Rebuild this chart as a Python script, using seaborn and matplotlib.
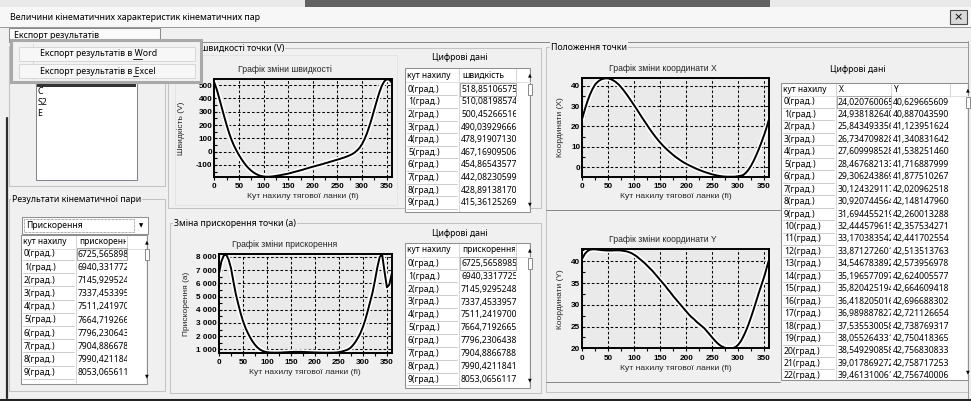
import matplotlib
matplotlib.use("Agg")
import matplotlib.pyplot as plt
import matplotlib.patheffects as pe
from matplotlib.patches import Rectangle
from matplotlib.lines import Line2D
from matplotlib.transforms import Affine2D, Bbox
from matplotlib.ticker import MultipleLocator
import seaborn as sns

W, H = 971, 401

# ---- chart data (5 degree steps) ----
angles = list(range(0, 361, 5))

velocity = [519, 467, 401, 333, 265, 200, 140, 88, 45, 8, -25, -55,
            -82, -106, -126, -143, -157, -168, -177, -183, -186, -188, -188, -187,
            -185, -182, -179, -176, -172, -169, -165, -160, -155, -150, -145, -140,
            -135, -129, -124, -118, -113, -108, -103, -98, -93, -87, -82, -76,
            -71, -65, -60, -54, -48, -42, -35, -27, -18, -6, 10, 30,
            58, 95, 140, 195, 255, 320, 385, 445, 495, 528, 543, 540,
            519]

acceleration = [6726, 7665, 8110, 8190, 7800, 7150, 6150, 5200, 4450, 3750, 3150, 2650,
                2250, 1900, 1600, 1350, 1150, 1000, 900, 830, 790, 770, 760, 755,
                755, 760, 765, 775, 785, 795, 805, 812, 815, 815, 812, 808,
                800, 792, 785, 778, 770, 765, 760, 755, 752, 750, 750, 752,
                758, 770, 790, 830, 880, 940, 1020, 1150, 1350, 1600, 1900, 2250,
                2700, 3250, 3900, 4600, 5300, 6200, 7200, 8000, 8200, 6900, 5700, 5900,
                6726]

coord_x = [24.02, 28.47, 32.44, 35.82, 38.55, 40.7, 42.0, 42.9, 43.4, 43.65, 43.6, 43.2,
           42.6, 41.7, 40.6, 39.2, 37.6, 35.9, 34.1, 32.2, 30.3, 28.4, 26.4, 24.4,
           22.5, 20.6, 18.7, 16.9, 15.2, 13.6, 12.1, 10.7, 9.4, 8.2, 7.1, 6.0,
           5.0, 4.1, 3.2, 2.4, 1.7, 1.0, 0.4, -0.2, -0.8, -1.3, -1.8, -2.3,
           -2.7, -3.1, -3.5, -3.8, -4.1, -4.3, -4.5, -4.6, -4.65, -4.65, -4.65, -4.6,
           -4.4, -4.2, -3.8, -2.7, -1.2, 0.8, 3.2, 6.0, 9.0, 12.3, 15.8, 19.7,
           24.02]

coord_y = [40.63, 41.72, 42.36, 42.66, 42.76, 42.74, 42.68, 42.6, 42.54, 42.5, 42.48, 42.48,
           42.5, 42.52, 42.52, 42.48, 42.38, 42.3, 42.1, 41.85, 41.5, 41.1, 40.6, 40.1,
           39.6, 39.0, 38.4, 37.8, 37.1, 36.4, 35.7, 35.0, 34.3, 33.5, 32.8, 32.0,
           31.3, 30.6, 29.9, 29.2, 28.5, 27.8, 27.2, 26.7, 26.1, 25.6, 25.1, 24.6,
           23.9, 23.2, 22.5, 21.8, 21.2, 20.7, 20.35, 20.12, 20.02, 20.0, 20.05, 20.3,
           20.8, 21.6, 22.7, 24.0, 25.5, 27.2, 29.0, 30.9, 32.8, 34.6, 36.4, 38.5,
           40.63]

x_ticks = [0, 50, 100, 150, 200, 250, 300, 350]
v_ticks = [-100, 0, 100, 200, 300, 400, 500]
a_ticks = [1000, 2000, 3000, 4000, 5000, 6000, 7000, 8000]
a_tick_labels = ["1 000", "2 000", "3 000", "4 000", "5 000", "6 000", "7 000", "8 000"]
cx_ticks = [0, 10, 20, 30, 40]
cy_ticks = [20, 25, 30, 35, 40]

# ---- table contents shown in the grids ----
velocity_table = ["518,85106575", "510,08198574", "500,45266516", "490,03929666",
                  "478,91907130", "467,16909506", "454,86543577", "442,08230599",
                  "428,89138170", "415,36125269"]
accel_table = ["6725,5658985", "6940,3317725", "7145,9295248", "7337,4533957",
               "7511,2419700", "7664,7192665", "7796,2306438", "7904,8866788",
               "7990,4211841", "8053,0656117"]
coord_x_table = ["24,020760065", "24,938182640", "25,843493356", "26,734709828",
                 "27,609998528", "28,467682133", "29,306243869", "30,124329117",
                 "30,920744564", "31,694455219", "32,444579615", "33,170383542",
                 "33,871272601", "34,546783892", "35,196577097", "35,820425194",
                 "36,418205016", "36,989887827", "37,535530058", "38,055264331",
                 "38,549290858", "39,017869272", "39,461310061"]
coord_y_table = ["40,629665609", "40,887043590", "41,123951624", "41,340831642",
                 "41,538251460", "41,716887999", "41,877510267", "42,020962518",
                 "42,148147960", "42,260013288", "42,357534271", "42,441702554",
                 "42,513513763", "42,573956978", "42,624005577", "42,664609418",
                 "42,696688302", "42,721126654", "42,738769317", "42,750418365",
                 "42,756830833", "42,758717253", "42,756740006"]
row_labels = [f"{i}(град.)" for i in range(23)]
list_items = ["C", "S2", "E"]

UI = ["Noto Sans", "DejaVu Sans"]
CH = ["Liberation Sans", "DejaVu Sans"]

sns.set_theme(style="white")
plt.rcParams["font.family"] = CH

fig = plt.figure(figsize=(W / 100, H / 100), dpi=100, facecolor="#f0f0f0")
pix = Affine2D().scale(1, -1).translate(0, H)   # pixel coords, origin top-left


def rect(x, y, w, h, fc="none", ec="none", lw=0.72, z=1, **kw):
    fig.add_artist(Rectangle((x, y), w, h, transform=pix, facecolor=fc,
                             edgecolor=ec, linewidth=lw, zorder=z, **kw))


def line(xs, ys, c="#a0a0a0", lw=0.72, z=2, **kw):
    fig.add_artist(Line2D(xs, ys, transform=pix, color=c, linewidth=lw, zorder=z, **kw))


def text(x, y, s, size=6.2, c="black", ha="left", va="center", family=UI, clip=None, z=5, **kw):
    t = fig.text(x, y, s, transform=pix, fontsize=size, color=c, ha=ha, va=va,
                 family=family, zorder=z, **kw)
    if clip:
        x0, y0, x1, y1 = clip
        t.set_clip_box(Bbox.from_extents(x0, H - y1, x1, H - y0))
        t.set_clip_on(True)
    return t


def group(x, y, w, h, title=None, tx=0):
    rect(x, y, w, h, ec="#c3c3c3", lw=0.75)
    if title:
        text(tx, y, title, size=6.3, z=3,
             bbox=dict(facecolor="#f0f0f0", edgecolor="none", pad=0.6))


def table(x0, y0, x1, y1, cols, header, n_rows, columns, row0, pitch):
    rect(x0, y0, x1 - x0, y1 - y0, fc="white", ec="#8e8f8f", lw=0.75, z=2)
    sb = cols[-1]
    for i, h in enumerate(header):
        text(cols[i] + 2, y0 + 7, h, size=6.0, z=4, clip=(cols[i], y0, cols[i + 1] - 2, y1))
        line([cols[i + 1] - 1] * 2, [y0 + 1, y0 + 13], c="#d6d6d6", z=3)
    line([x0 + 1, sb], [y0 + 13.5] * 2, c="#e0e0e0", z=3)
    line([cols[1] - 1] * 2, [y0 + 14, y1 - 1], c="#d6d6d6", z=3)
    for r in range(n_rows):
        yy = row0 + r * pitch
        text(x0 + 3, yy, row_labels[r], z=4, clip=(x0, y0 + 14, cols[1] - 1, y1 - 1))
        if yy + 6 < y1:
            line([x0 + 2, cols[1] - 3], [yy + 6] * 2, c="#cdcdcd", z=3)
        for c, col in enumerate(columns):
            text(cols[c + 1] + 1, yy, col[r], z=4,
                 clip=(cols[c + 1], y0 + 14, cols[c + 2] - 1, y1 - 1))
    rect(cols[1], row0 - 6.3, cols[2] - cols[1] - 1, 12.6, ec="#9a9a9a", lw=0.6, z=3)
    rect(sb, y0 + 1, x1 - sb - 1, y1 - y0 - 2, fc="#eeeeee", z=3)
    text((sb + x1) / 2, y0 + 7, "▲", size=3.5, ha="center", family=["DejaVu Sans"], z=4)
    text((sb + x1) / 2, y1 - 8, "▼", size=3.5, ha="center", family=["DejaVu Sans"], z=4)
    rect(sb + 1.5, row0 - 5.5, x1 - sb - 4, 11, fc="white", ec="#8a8a8a", lw=0.7, z=4)


def chart(box, values, title, title_x, ylabel, ypad, yticks, ylabels, yminor):
    l, t, r, b = box
    ax = fig.add_axes([l / W, 1 - b / H, (r - l) / W, (b - t) / H])
    ax.set_facecolor("#eaeaea")
    sns.lineplot(x=angles, y=values, ax=ax, color="black", linewidth=1.4,
                 path_effects=[pe.Stroke(linewidth=3.8, foreground="white"), pe.Normal()])
    ax.set_xlim(0, 360)
    ax.set_ylim(min(values), max(values))
    ax.set_xticks(x_ticks)
    ax.set_xticklabels(x_ticks, fontweight="bold", fontsize=5.9)
    ax.set_yticks(yticks)
    ax.set_yticklabels(ylabels, fontweight="bold", fontsize=5.9)
    ax.xaxis.set_minor_locator(MultipleLocator(25))
    ax.yaxis.set_minor_locator(MultipleLocator(yminor))
    ax.tick_params(axis="x", which="both", direction="out", bottom=True,
                   length=2.5, width=0.8, pad=2.2, colors="black")
    ax.tick_params(axis="y", which="both", direction="in", left=True,
                   length=2.5, width=0.8, pad=1.5, colors="black")
    ax.grid(True, which="major", color="black", linestyle=(0, (2.5, 2)), linewidth=0.75)
    for s in ax.spines.values():
        s.set_visible(True)
        s.set_color("black")
        s.set_linewidth(1.4)
    ax.set_title(title, fontsize=6.2, pad=5.5, x=title_x)
    ax.set_xlabel("Кут нахилу тягової ланки (fi)", fontsize=6.1, labelpad=2)
    ax.set_ylabel(ylabel, fontsize=6.0, labelpad=ypad)
    return ax


# ---- window chrome ----
rect(0, 0, W, 7, fc="#e9e9e9", z=0)
rect(305, 0, 465, 6.5, fc="#626262", z=0)
rect(0, 7, W, 20, fc="#f7f7f7", z=0)
text(10, 18, "Величини кінематичних характеристик кінематичних пар", size=6.4)
rect(950, 10, 17, 14, fc="#d9d9d9", ec="#4a4a4a", lw=0.8)
text(958.5, 17, "×", size=8, ha="center", family=["DejaVu Sans"])
line([0, W], [27, 27], c="#9a9a9a")
rect(9, 28, 151, 13.5, fc="#fbfbfb", ec="#8a8a8a", lw=0.75)
text(14, 35, "Експорт результатів", size=6.3)
line([160, W - 3], [41.5, 41.5], c="#8a8a8a")
line([6.5, 6.5], [118, 398], c="#2e2e2e", lw=1.6)
line([W - 3, W - 3], [41, 398], c="#9a9a9a")
line([0, W], [399.5, 399.5], c="#222222", lw=2.2)

# ---- left column ----
group(9, 46, 156, 140)
rect(36, 82, 101, 98, fc="white", ec="#828790", lw=0.75)
rect(37, 82, 99, 5, fc="#333333")
for i, item in enumerate(list_items):
    text(37.5, 91.5 + i * 11, item, size=6.3)
group(9, 199, 156, 192, "Результати кінематичної пари", 12)
rect(22, 217, 126, 17, fc="white", ec="#8e8f8f", lw=0.75, z=2)
rect(24, 219, 110, 13, ec="#555555", lw=0.5, ls=(0, (1, 1)), z=3)
text(26, 226, "Прискорення", size=6.2, z=4)
text(141, 226, "▼", size=4, ha="center", family=["DejaVu Sans"], z=4)
table(21, 235, 147, 384, [21, 77, 128, 147], ["кут нахилу", "прискорення"],
      10, [accel_table], 254, 13.2)

# ---- velocity block ----
group(168, 48, 373, 160, "Зміна швидкості точки (V)", 174)
rect(175, 55, 222, 150, ec="#e2e2e2", lw=0.6)
chart((214.3, 79.3, 391.7, 176.7), velocity, "Графік зміни швидкості", 0.40,
      "Швидкість (V)", 8, v_ticks, v_ticks, 50)
text(460, 58, "Цифрові дані", size=6.2, ha="center")
table(405, 68, 530, 212, [405, 460, 517, 530], ["кут нахилу", "швидкість"],
      10, [velocity_table], 89.3, 12.6)

# ---- acceleration block ----
group(170, 223, 371, 170, "Зміна прискорення точки (а)", 174)
chart((219, 254.3, 391.7, 352.7), acceleration, "Графік зміни прискорення", 0.38,
      "Прискорення (а)", 4.5, a_ticks, a_tick_labels, 500)
text(460, 233, "Цифрові дані", size=6.2, ha="center")
table(405, 243, 530, 388, [405, 460, 517, 530], ["кут нахилу", "прискорення"],
      10, [accel_table], 263.3, 12.9)

# ---- position block ----
group(546, 47, 422, 345, "Положення точки", 551)
line([546, 780], [210, 210], c="#8a8a8a")
line([546, 780], [381.5, 381.5], c="#8a8a8a")
chart((582.3, 78.3, 769.3, 176.7), coord_x, "Графік зміни координати X", 0.43,
      "Координати (X)", 5, cx_ticks, cx_ticks, 5)
chart((582.3, 249.3, 769.3, 348.3), coord_y, "Графік зміни координати Y", 0.43,
      "Координати (Y)", 5, cy_ticks, cy_ticks, 2.5)
text(858, 69, "Цифрові дані", size=6.2, ha="center")
table(781, 82.5, 968, 380, [781, 837, 892, 951, 968], ["кут нахилу", "X", "Y"],
      23, [coord_x_table, coord_y_table], 102, 12.45)

# ---- export drop-down menu (on top) ----
rect(10.5, 40, 190, 42, fc="#f2f2f2", ec="#a9a9a9", lw=2.2, z=10)
line([33, 33], [44, 79], c="#d8d8d8", z=11)
rect(19, 46.5, 176, 14, fc="#f7f7f7", ec="#d2d2d2", lw=0.6, z=11)
rect(19, 63.5, 176, 14, fc="#f7f7f7", ec="#d2d2d2", lw=0.6, z=11)
text(39.5, 53.3, "Експорт результатів в Word", size=6.3, z=12)
text(39.5, 71, "Експорт результатів в Excel", size=6.3, z=12)
line([132.5, 141.5], [58.8, 58.8], c="black", lw=0.6, z=12)
line([133.3, 138.3], [76.3, 76.3], c="black", lw=0.6, z=12)

fig.savefig("out.png", dpi=100, facecolor=fig.get_facecolor())
